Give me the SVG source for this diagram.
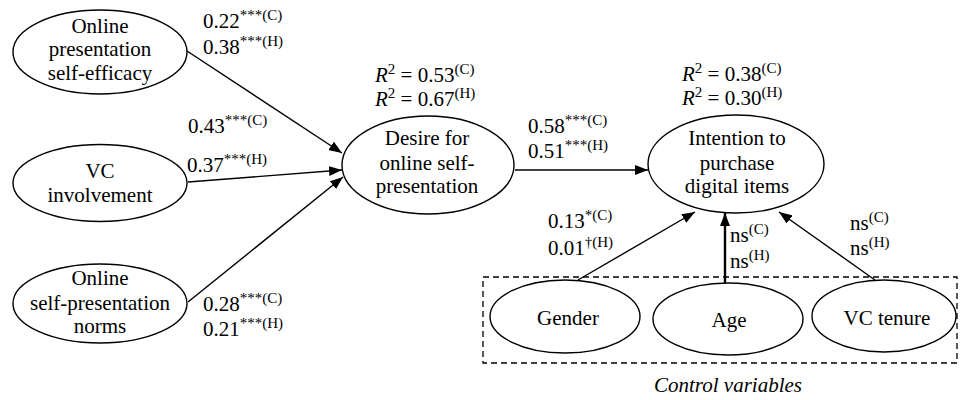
<svg xmlns="http://www.w3.org/2000/svg" width="960" height="400" viewBox="0 0 960 400">
<style>
text{font-size:21px;fill:#000}
.c{text-anchor:middle}
.sup{font-size:15px}
ellipse{fill:#fff;stroke:#000;stroke-width:1.4}
.ln{stroke:#000;stroke-width:1.4;fill:none;marker-end:url(#ah)}
.thick{stroke-width:2.4}
</style>
<defs>
<marker id="ah" markerUnits="userSpaceOnUse" markerWidth="14" markerHeight="10" refX="13" refY="5" orient="auto">
<path d="M0,0 L13,5 L0,10 Z" fill="#000"/>
</marker>
</defs>
<rect x="483" y="277" width="474" height="86" fill="none" stroke="#000" stroke-width="1.3" stroke-dasharray="6,4"/>
<g id="connectors">
<line class="ln" x1="187" y1="51" x2="342" y2="153"/>
<line class="ln" x1="188" y1="182" x2="342" y2="170"/>
<line class="ln" x1="188" y1="302" x2="343" y2="177"/>
<line class="ln" x1="515" y1="170" x2="648" y2="170"/>
<line class="ln" x1="578" y1="280" x2="695" y2="212"/>
<line class="ln thick" x1="725" y1="283" x2="725" y2="213"/>
<line class="ln" x1="875" y1="280" x2="779" y2="212"/>
</g>
<g font-family="Liberation Serif, Tinos, Noto Serif, DejaVu Serif, serif">
<g id="n-efficacy">
<ellipse cx="100" cy="52" rx="87" ry="42"/>
<text class="c" x="100" y="33">Online</text>
<text class="c" x="100" y="56">presentation</text>
<text class="c" x="100" y="80">self-efficacy</text>
</g>
<g id="n-involvement">
<ellipse cx="100" cy="183" rx="87" ry="38.5"/>
<text class="c" x="100" y="178">VC</text>
<text class="c" x="100" y="202">involvement</text>
</g>
<g id="n-norms">
<ellipse cx="100" cy="303.5" rx="87" ry="39.5"/>
<text class="c" x="100" y="285">Online</text>
<text class="c" x="100" y="310">self-presentation</text>
<text class="c" x="100" y="333">norms</text>
</g>
<g id="n-desire">
<ellipse cx="428" cy="165" rx="86" ry="49"/>
<text class="c" x="427" y="145">Desire for</text>
<text class="c" x="427" y="170">online self-</text>
<text class="c" x="427" y="193">presentation</text>
</g>
<g id="n-intention">
<ellipse cx="736" cy="164" rx="88" ry="49"/>
<text class="c" x="737" y="145">Intention to</text>
<text class="c" x="737" y="170">purchase</text>
<text class="c" x="737" y="193">digital items</text>
</g>
<g id="n-gender">
<ellipse cx="565" cy="316.5" rx="75" ry="36.5"/>
<text class="c" x="568" y="325">Gender</text>
</g>
<g id="n-age">
<ellipse cx="728" cy="319" rx="75" ry="36"/>
<text class="c" x="729" y="327">Age</text>
</g>
<g id="n-tenure">
<ellipse cx="884" cy="316" rx="72" ry="36"/>
<text class="c" x="887" y="325">VC tenure</text>
</g>
<g id="labels">
<text x="203" y="28">0.22<tspan class="sup" dy="-8">***(C)</tspan></text>
<text x="203" y="54">0.38<tspan class="sup" dy="-8">***(H)</tspan></text>
<text x="188" y="133">0.43<tspan class="sup" dy="-8">***(C)</tspan></text>
<text x="187" y="172">0.37<tspan class="sup" dy="-8">***(H)</tspan></text>
<text x="203" y="311">0.28<tspan class="sup" dy="-8">***(C)</tspan></text>
<text x="203" y="336">0.21<tspan class="sup" dy="-8">***(H)</tspan></text>
<text x="528" y="133">0.58<tspan class="sup" dy="-8">***(C)</tspan></text>
<text x="528" y="158">0.51<tspan class="sup" dy="-8">***(H)</tspan></text>
<text x="375" y="82"><tspan font-style="italic">R</tspan><tspan class="sup" dy="-8">2</tspan><tspan dy="8"> = 0.53</tspan><tspan class="sup" dy="-8">(C)</tspan></text>
<text x="375" y="106"><tspan font-style="italic">R</tspan><tspan class="sup" dy="-8">2</tspan><tspan dy="8"> = 0.67</tspan><tspan class="sup" dy="-8">(H)</tspan></text>
<text x="682" y="81"><tspan font-style="italic">R</tspan><tspan class="sup" dy="-8">2</tspan><tspan dy="8"> = 0.38</tspan><tspan class="sup" dy="-8">(C)</tspan></text>
<text x="682" y="105"><tspan font-style="italic">R</tspan><tspan class="sup" dy="-8">2</tspan><tspan dy="8"> = 0.30</tspan><tspan class="sup" dy="-8">(H)</tspan></text>
<text x="548" y="228">0.13<tspan class="sup" dy="-8">*(C)</tspan></text>
<text x="548" y="255">0.01<tspan class="sup" dy="-8">†(H)</tspan></text>
<text x="730" y="242">ns<tspan class="sup" dy="-8">(C)</tspan></text>
<text x="730" y="268">ns<tspan class="sup" dy="-8">(H)</tspan></text>
<text x="850" y="230">ns<tspan class="sup" dy="-8">(C)</tspan></text>
<text x="850" y="255">ns<tspan class="sup" dy="-8">(H)</tspan></text>
<text class="c" x="728" y="392" font-style="italic">Control variables</text>
</g>
</g>
</svg>
